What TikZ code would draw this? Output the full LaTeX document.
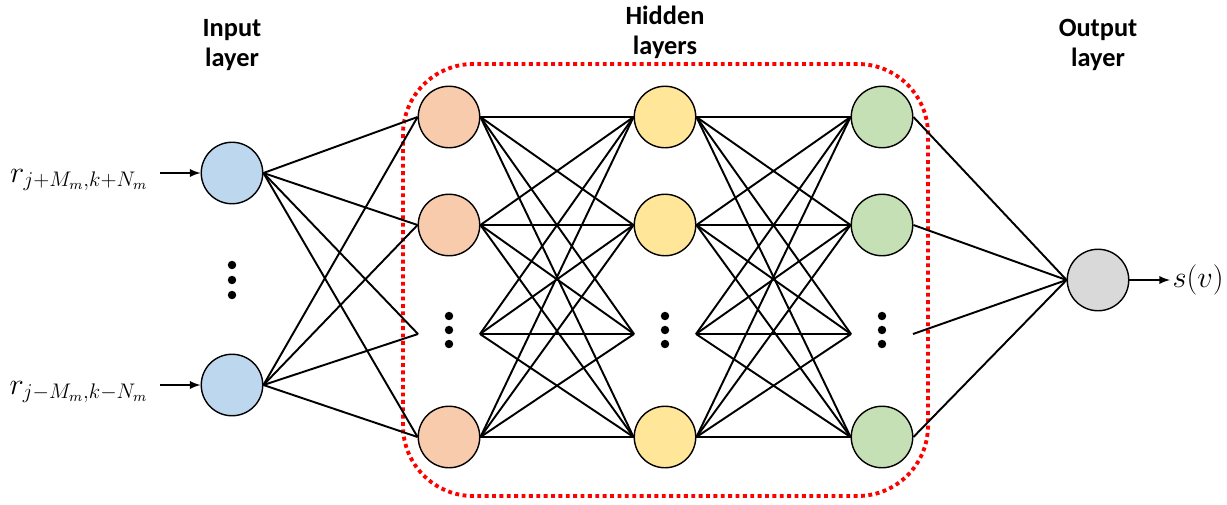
\documentclass[tikz,border=0pt]{standalone}
\usepackage{fontspec}
\newfontfamily\titlefont{Carlito}
\usetikzlibrary{positioning}
\tikzset{
	% neuron styles for the layers
	neuron/.style={circle,draw,thick,minimum size=35pt,inner sep=0},
	title/.style={font=\titlefont\bfseries\fontsize{15}{17}\selectfont,align=center},
	label text/.style={font=\fontsize{17}{19}\selectfont},
	vdots/.style={circle,fill=black,inner sep=1.7pt}
}
\begin{document}
\begin{tikzpicture}[x=0.02cm,y=-0.02cm,line width=1.1pt]
	\useasboundingbox (0,0) rectangle (1227,504);
	\definecolor{inblue}{HTML}{BDD7EE}
	\definecolor{hidone}{HTML}{F8CBAD}
	\definecolor{hidtwo}{HTML}{FFE699}
	\definecolor{hidthree}{HTML}{C5E0B4}
	\definecolor{outgray}{HTML}{D9D9D9}
	% frame of the hidden layers
	\draw[red,dotted,line width=2.2pt,rounded corners=40pt] (403,64) rectangle (928,496);
	% titles
	\node[title] (tin) at (232,45) {Input\\layer};
	\node[title] (thid) at (665,32) {Hidden\\layers};
	\node[title] (tout) at (1098,45) {Output\\layer};
	% input layer
	\node[neuron,fill=inblue] (i1) at (232,173) {};
	\node[neuron,fill=inblue] (i2) at (232,385) {};
	\foreach \y in {265,280,295} \node[vdots] (id\y) at (232,\y) {};
	% hidden layers
	\foreach \c/\x/\col in {1/449/hidone,2/665/hidtwo,3/882/hidthree}{
		\node[neuron,fill=\col] (h\c-1) at (\x,117) {};
		\node[neuron,fill=\col] (h\c-2) at (\x,225) {};
		\node[neuron,fill=\col] (h\c-4) at (\x,437) {};
		\coordinate (h\c-3w) at (\x-31,334);
		\coordinate (h\c-3e) at (\x+31,334);
		\foreach \y in {316,330,344} \node[vdots] (hd\c-\y) at (\x,\y) {};
	}
	% output layer
	\node[neuron,fill=outgray] (o) at (1098,280) {};
	% connections
	\foreach \a in {i1,i2}{
		\foreach \b in {h1-1.west,h1-2.west,h1-3w,h1-4.west}
			\draw (\a.east) -- (\b);
	}
	\foreach \p/\n in {1/2,2/3}{
		\foreach \a in {h\p-1.east,h\p-2.east,h\p-3e,h\p-4.east}{
			\foreach \b in {h\n-1.west,h\n-2.west,h\n-3w,h\n-4.west}
				\draw (\a) -- (\b);
		}
	}
	\foreach \a in {h3-1.east,h3-2.east,h3-3e,h3-4.east}
		\draw (\a) -- (o.west);
	% inputs and output
	\node[anchor=east,label text] (r1) at (155,180) {$r_{j+M_m,k+N_m}$};
	\node[anchor=east,label text] (r2) at (155,392) {$r_{j-M_m,k-N_m}$};
	\coordinate (r1e) at (160,173);
	\coordinate (r2e) at (160,385);
	\draw[-latex] (r1e) -- (i1.west);
	\draw[-latex] (r2e) -- (i2.west);
	\node[anchor=west,label text,inner sep=1pt] (s) at (1170,280) {$s(v)$};
	\draw[-latex] (o.east) -- (s.west);
\end{tikzpicture}
\end{document}
